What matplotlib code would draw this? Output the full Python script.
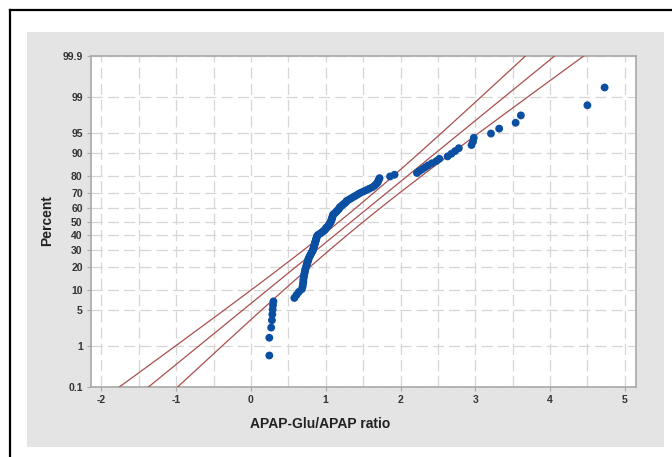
import matplotlib
matplotlib.use('Agg')
import matplotlib.pyplot as plt
import numpy as np
from statistics import NormalDist
from matplotlib.patches import Rectangle
from matplotlib.lines import Line2D

# ---- data (sorted ascending) ----
ratio_values = [
    0.245, 0.245, 0.27, 0.28, 0.285, 0.29, 0.295, 0.30,
    0.58, 0.61, 0.64, 0.68, 0.69, 0.695, 0.70, 0.70, 0.705, 0.71, 0.715, 0.72,
    0.725, 0.73, 0.74, 0.745, 0.75, 0.76, 0.765, 0.77, 0.78, 0.79,
    0.80, 0.81, 0.82, 0.83, 0.835, 0.84, 0.845, 0.85, 0.855, 0.86,
    0.865, 0.87, 0.875, 0.88, 0.885, 0.90, 0.93, 0.95, 0.97, 0.99,
    1.00, 1.01, 1.03, 1.04, 1.05, 1.06, 1.07, 1.075, 1.08, 1.085,
    1.09, 1.095, 1.10, 1.12, 1.14, 1.15, 1.17, 1.18, 1.19, 1.21,
    1.23, 1.25, 1.27, 1.28, 1.31, 1.34, 1.37, 1.40, 1.43, 1.46,
    1.50, 1.54, 1.58, 1.62, 1.65, 1.67, 1.69, 1.70, 1.71, 1.72,
    1.86, 1.92, 2.22, 2.25, 2.29, 2.33, 2.37, 2.42, 2.48, 2.52,
    2.63, 2.68, 2.73, 2.78, 2.95, 2.97, 2.98, 3.21, 3.32, 3.54,
    3.61, 4.50, 4.73,
]
fit_mean = 1.345
fit_sd = 0.879
percent_ticks = [0.1, 1, 5, 10, 20, 30, 40, 50, 60, 70, 80, 90, 95, 99, 99.9]
percent_labels = ['0.1', '1', '5', '10', '20', '30', '40', '50', '60', '70',
                  '80', '90', '95', '99', '99.9']
x_ticks = [-2, -1, 0, 1, 2, 3, 4, 5]
x_label = 'APAP-Glu/APAP ratio'
y_label = 'Percent'

# ---- probability (normal) scale ----
_nd = NormalDist()

def _ppf(q):
    if not np.isfinite(q):
        return np.nan
    q = min(max(q, 1e-9), 1 - 1e-9)
    return _nd.inv_cdf(q)

def _cdf(z):
    if not np.isfinite(z):
        return np.nan
    return _nd.cdf(z)

_vppf = np.vectorize(_ppf, otypes=[float])
_vcdf = np.vectorize(_cdf, otypes=[float])

def fwd(p):
    return _vppf(np.asarray(p, dtype=float) / 100.0)

def inv(z):
    return _vcdf(np.asarray(z, dtype=float)) * 100.0

W, H = 672, 457
fig = plt.figure(figsize=(W / 100, H / 100), dpi=100)
fig.patch.set_facecolor('white')

# grey panel behind the chart
fig.add_artist(Rectangle((27 / W, 1 - 447 / H), (664 - 27) / W, (447 - 32) / H,
                         transform=fig.transFigure, facecolor='#e4e4e4',
                         edgecolor='none', zorder=-10))
# black frame lines (left and top)
fig.add_artist(Line2D([10 / W, 10 / W], [0, 1 - 10 / H], transform=fig.transFigure,
                      color='black', lw=1.6))
fig.add_artist(Line2D([10 / W, 1], [1 - 10 / H, 1 - 10 / H], transform=fig.transFigure,
                      color='black', lw=1.6))

ax = fig.add_axes([91 / W, 1 - 387 / H, (636 - 91) / W, (387 - 56) / H])
ax.set_facecolor('white')
ax.set_yscale('function', functions=(fwd, inv))

n = len(ratio_values)
x_sorted = np.sort(np.asarray(ratio_values))
ranks = np.arange(1, n + 1)
plot_pos = (ranks - 0.3) / (n + 0.4) * 100.0

# fitted line and 95% CI
z = np.linspace(fwd(0.1), fwd(99.9), 300)
p_line = inv(z)
center = fit_mean + z * fit_sd
hw = 1.96 * fit_sd * np.sqrt(1.0 / n + z ** 2 / (2.0 * n))
line_col = '#a8504e'
ax.plot(center, p_line, color=line_col, lw=0.9, zorder=3)
ax.plot(center - hw, p_line, color=line_col, lw=0.9, zorder=3)
ax.plot(center + hw, p_line, color=line_col, lw=0.9, zorder=3)

ax.scatter(x_sorted, plot_pos, s=32, color='#0b4fa2', edgecolors='none', zorder=4)

ax.set_xlim(-2.14, 5.15)
ax.set_ylim(0.1, 99.9)
ax.set_xticks(x_ticks)
ax.set_xticklabels([str(t) for t in x_ticks])
ax.set_xticks(np.arange(-2, 5.01, 0.5), minor=True)
ax.set_yticks(percent_ticks)
ax.set_yticklabels(percent_labels)
ax.yaxis.set_minor_locator(matplotlib.ticker.NullLocator())

grid_kw = dict(color='#d6d6d6', lw=0.9, linestyle=(0, (9, 4)))
ax.grid(True, which='major', axis='y', **grid_kw)
ax.grid(True, which='both', axis='x', **grid_kw)
ax.set_axisbelow(True)

for s in ax.spines.values():
    s.set_color('#a9a9a9')
    s.set_linewidth(1.2)

ax.tick_params(axis='both', which='major', length=3, width=0.8, color='#a9a9a9',
               labelsize=7.5, labelcolor='#333333', pad=3)
ax.tick_params(axis='x', which='minor', length=0)
for lab in ax.get_xticklabels() + ax.get_yticklabels():
    lab.set_fontfamily('Liberation Sans')
    lab.set_fontweight('bold')

fig.text(320 / W, 1 - 424 / H, x_label, ha='center', va='center',
         fontsize=10, fontweight='bold', family='Liberation Sans', color='#222222')
fig.text(47 / W, 1 - 221 / H, y_label, ha='center', va='center', rotation=90,
         fontsize=10, fontweight='bold', family='Liberation Sans', color='#222222')

fig.savefig('out.png', dpi=100)
